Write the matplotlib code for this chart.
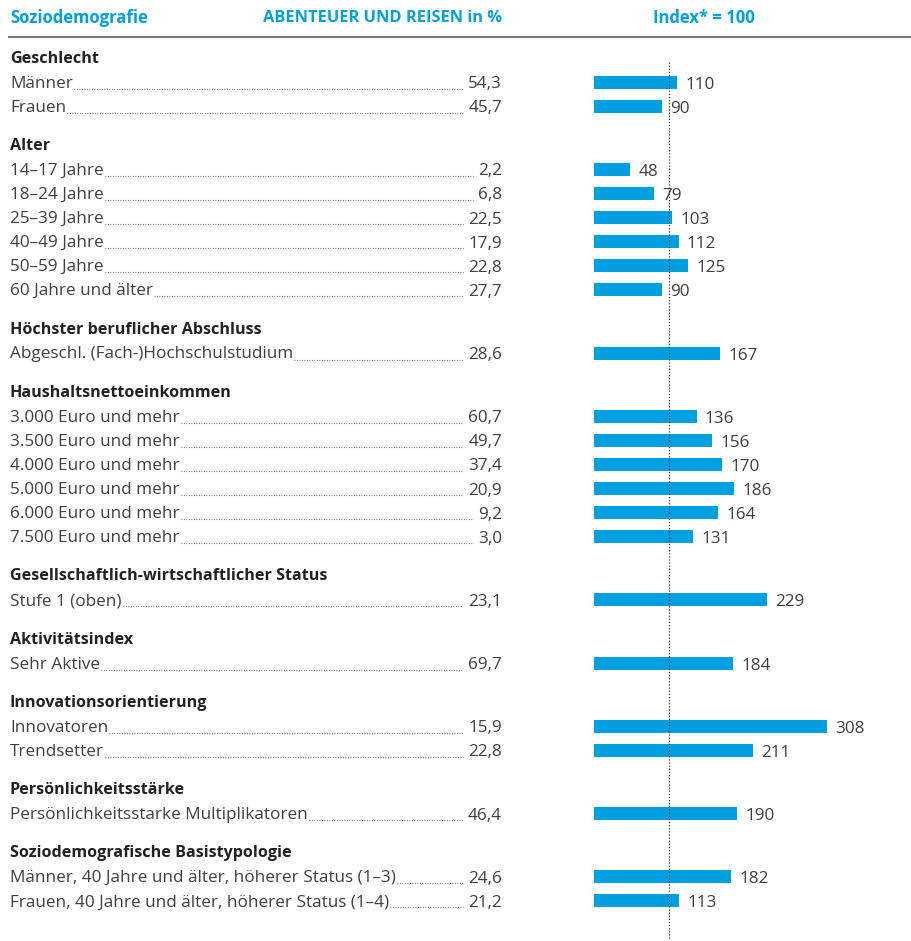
import matplotlib
matplotlib.use("Agg")
import matplotlib.pyplot as plt

plt.rcParams['font.family'] = ['Open Sans', 'DejaVu Sans']

# Daten
group_names = ["Geschlecht", "Alter", "Höchster beruflicher Abschluss",
               "Haushaltsnettoeinkommen", "Gesellschaftlich-wirtschaftlicher Status",
               "Aktivitätsindex", "Innovationsorientierung", "Persönlichkeitsstärke",
               "Soziodemografische Basistypologie"]
row_labels = [
    ["Männer", "Frauen"],
    ["14–17 Jahre", "18–24 Jahre", "25–39 Jahre", "40–49 Jahre", "50–59 Jahre",
     "60 Jahre und älter"],
    ["Abgeschl. (Fach-)Hochschulstudium"],
    ["3.000 Euro und mehr", "3.500 Euro und mehr", "4.000 Euro und mehr",
     "5.000 Euro und mehr", "6.000 Euro und mehr", "7.500 Euro und mehr"],
    ["Stufe 1 (oben)"],
    ["Sehr Aktive"],
    ["Innovatoren", "Trendsetter"],
    ["Persönlichkeitsstarke Multiplikatoren"],
    ["Männer, 40 Jahre und älter, höherer Status (1–3)",
     "Frauen, 40 Jahre und älter, höherer Status (1–4)"],
]
pct_values = [
    [54.3, 45.7],
    [2.2, 6.8, 22.5, 17.9, 22.8, 27.7],
    [28.6],
    [60.7, 49.7, 37.4, 20.9, 9.2, 3.0],
    [23.1],
    [69.7],
    [15.9, 22.8],
    [46.4],
    [24.6, 21.2],
]
index_values = [
    [110, 90],
    [48, 79, 103, 112, 125, 90],
    [167],
    [136, 156, 170, 186, 164, 131],
    [229],
    [184],
    [308, 211],
    [190],
    [182, 113],
]

BLUE = '#009FDF'
TEXT = '#404040'
W, H = 912, 941
FS = 12.3

fig = plt.figure(figsize=(W / 100, H / 100), dpi=100)
ax = fig.add_axes([0, 0, 1, 1])
ax.set_xlim(0, W)
ax.set_ylim(H, 0)
ax.axis('off')

# Balken-Achse: beginnt bei x=594 px, 100 Index ~ 75.5 px
bar_left = 594
px_per_unit = 0.755
axb = fig.add_axes([bar_left / W, 0, 1 - bar_left / W, 1])
axb.set_xlim(0, (W - bar_left) / px_per_unit)
axb.set_ylim(H, 0)
axb.axis('off')

# Kopfzeile
ax.text(10, 18, "Soziodemografie", color=BLUE, fontsize=12, fontweight='bold', va='center')
ax.text(502, 18, "ABENTEUER UND REISEN in %", color=BLUE, fontsize=11.8,
        fontweight='bold', va='center', ha='right')
ax.text(704, 18, "Index* = 100", color=BLUE, fontsize=12, fontweight='bold',
        va='center', ha='center')
ax.plot([8, W], [37, 37], color='#777777', lw=1.5, solid_capstyle='butt')

# Zeilen-Layout
y = 57
row_step = 24.1
group_gap = 38.2
rows = []
for g, name in enumerate(group_names):
    ax.text(10, y + 1.5, name, color='#222222', fontsize=11.6, fontweight='bold', va='center')
    for i, (lab, pct, idx) in enumerate(zip(row_labels[g], pct_values[g], index_values[g])):
        y += 25 if i == 0 else row_step
        rows.append((y, lab, pct, idx))
    y += group_gap

fig.canvas.draw()
renderer = fig.canvas.get_renderer()
inv = ax.transData.inverted()

for ry, lab, pct, idx in rows:
    t1 = ax.text(10, ry + 1.5, lab, color=TEXT, fontsize=FS, va='center')
    t2 = ax.text(502, ry + 2, f"{pct:.1f}".replace('.', ','), color=TEXT,
                 fontsize=FS, va='center', ha='right')
    e1 = t1.get_window_extent(renderer)
    e2 = t2.get_window_extent(renderer)
    x0 = inv.transform((e1.x1, 0))[0] + 1
    x1 = inv.transform((e2.x0, 0))[0] - 5
    ax.plot([x0, x1], [ry + 6.5, ry + 6.5], color='#555555', lw=0.9,
            linestyle=(0, (0.6, 1.4)), solid_capstyle='butt')

    axb.barh(ry, idx, height=13, left=0, color=BLUE)
    axb.text(idx + 11, ry + 2.5, str(idx), color=TEXT, fontsize=FS, va='center')

# Referenzlinie Index = 100
axb.plot([100, 100], [62, 940], color='#333333', lw=0.9, linestyle=(0, (1, 1.5)))

fig.savefig('out.png', dpi=100)
